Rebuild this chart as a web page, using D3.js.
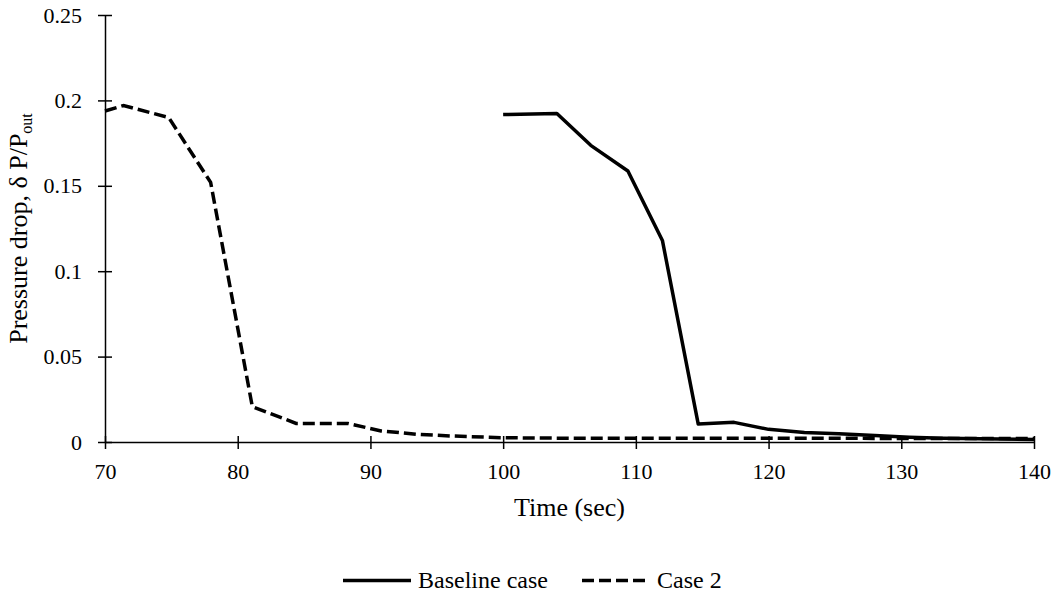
<!DOCTYPE html>
<html>
<head>
<meta charset="utf-8">
<script src="https://cdn.jsdelivr.net/npm/d3@7"></script>
<style>
  body { margin: 0; background: #fff; }
  svg, svg text { font-family: "Liberation Serif", "Times New Roman", serif; }
  svg { display: block; }
</style>
</head>
<body>
<div id="chart"></div>
<script>
// Baseline case
const baseTime = [100, 104.05, 106.6, 109.4, 112.0, 114.7, 117.4, 120.0, 122.7, 125.3, 128.0, 130.6, 133.2, 140];
const baseDrop = [0.1917, 0.1923, 0.1737, 0.1587, 0.118, 0.0105, 0.0115, 0.0074, 0.0055, 0.0048, 0.0038, 0.0028, 0.0022, 0.0015];

// Case 2
const case2Time = [70, 71.4, 74.8, 77.96, 81.1, 84.4, 88.3, 90.8, 93.5, 96.2, 100, 105, 110, 120, 130, 140];
const case2Drop = [0.1938, 0.197, 0.190, 0.152, 0.0207, 0.0109, 0.0109, 0.0065, 0.0045, 0.0035, 0.0025, 0.0022, 0.0022, 0.0022, 0.0021, 0.002];

const xTicks = [70, 80, 90, 100, 110, 120, 130, 140];
const yTicks = [0, 0.05, 0.1, 0.15, 0.2, 0.25];

const width = 1056;
const height = 594;
const margin = { top: 15, right: 22, bottom: 152, left: 105 };

const svg = d3.select("#chart")
  .append("svg")
  .attr("width", width)
  .attr("height", height);

const x = d3.scaleLinear()
  .domain([70, 140])
  .range([margin.left, width - margin.right]);

const y = d3.scaleLinear()
  .domain([0, 0.25])
  .range([height - margin.bottom, margin.top]);

// y axis
const yAxis = svg.append("g")
  .attr("transform", `translate(${margin.left},0)`)
  .call(d3.axisLeft(y).tickValues(yTicks).tickFormat(d3.format("")).tickSize(7).tickSizeOuter(0).tickPadding(16));
yAxis.attr("font-family", null);
yAxis.select(".domain").attr("stroke", "#000").attr("stroke-width", 1.5);
yAxis.selectAll(".tick line").attr("x2", 7).attr("x1", -7).attr("stroke-width", 1.5);
yAxis.selectAll(".tick text").attr("font-size", 22).attr("fill", "#000");

// x axis
const xAxis = svg.append("g")
  .attr("transform", `translate(0,${y(0)})`)
  .call(d3.axisBottom(x).tickValues(xTicks).tickSize(7).tickSizeOuter(0).tickPadding(14));
xAxis.attr("font-family", null);
xAxis.select(".domain").attr("stroke", "#000").attr("stroke-width", 1.5);
xAxis.selectAll(".tick line").attr("y1", -6).attr("y2", 7).attr("stroke-width", 1.5);
xAxis.selectAll(".tick text").attr("font-size", 22).attr("fill", "#000");

// Lines
const line = d3.line()
  .x((d) => x(d[0]))
  .y((d) => y(d[1]));

const baseData = d3.zip(baseTime, baseDrop);
const case2Data = d3.zip(case2Time, case2Drop);

svg.append("path")
  .datum(case2Data)
  .attr("fill", "none")
  .attr("stroke", "#000")
  .attr("stroke-width", 3.5)
  .attr("stroke-dasharray", "12,5")
  .attr("d", line);

svg.append("path")
  .datum(baseData)
  .attr("fill", "none")
  .attr("stroke", "#000")
  .attr("stroke-width", 3.5)
  .attr("stroke-linejoin", "round")
  .attr("d", line);

// Axis titles
svg.append("text")
  .attr("x", (x(70) + x(140)) / 2)
  .attr("y", 516)
  .attr("text-anchor", "middle")
  .attr("font-size", 26)
  .text("Time (sec)");

const yTitle = svg.append("text")
  .attr("transform", `translate(27,${(y(0) + y(0.25)) / 2}) rotate(-90)`)
  .attr("text-anchor", "middle")
  .attr("font-size", 26);
yTitle.append("tspan").text("Pressure drop, δ P/P");
yTitle.append("tspan").attr("font-size", 16).attr("dy", 5).text("out");

// Legend
const legend = svg.append("g").attr("font-size", 24);
const legendItems = [
  { name: "Baseline case", dash: null, x0: 343 },
  { name: "Case 2", dash: "12,5", x0: 582 },
];
legendItems.forEach((it) => {
  legend.append("line")
    .attr("x1", it.x0).attr("x2", it.x0 + 68)
    .attr("y1", 580.5).attr("y2", 580.5)
    .attr("stroke", "#000")
    .attr("stroke-width", 3.5)
    .attr("stroke-dasharray", it.dash);
  legend.append("text")
    .attr("x", it.x0 + 75)
    .attr("y", 588)
    .text(it.name);
});
</script>
</body>
</html>
